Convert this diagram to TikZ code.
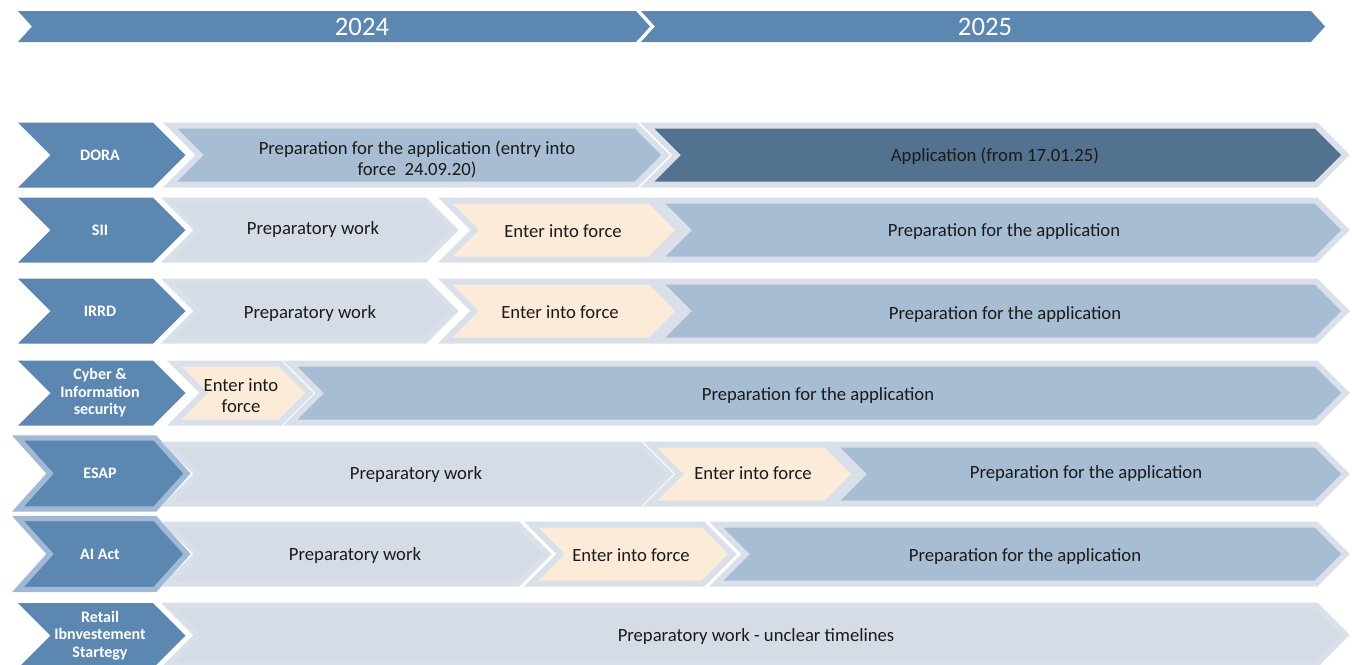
\documentclass[tikz,border=0pt]{standalone}
\usepackage{fontspec}
\setmainfont{Carlito}

\definecolor{labelblue}{HTML}{5B87B1}
\definecolor{labelrim}{HTML}{9FB9D6}
\definecolor{appdark}{HTML}{52728F}
\definecolor{barblue}{HTML}{A7BDD4}
\definecolor{prepgrey}{HTML}{D5DCE6}
\definecolor{peach}{HTML}{FDEBD9}
\definecolor{rim}{HTML}{DAE0E9}
\definecolor{textdark}{HTML}{1A1A1A}

% chevron: left x, right x, centre y, half height, point depth
\newcommand{\chevpath}[5]{(#1,#3-#4) -- (#2,#3-#4) -- (#2+#5,#3) -- (#2,#3+#4) -- (#1,#3+#4) -- (#1+#5,#3) -- cycle}

\tikzset{
  year bar/.style={fill=labelblue},
  year text/.style={text=white, font=\fontsize{20}{24}\selectfont},
  row label/.style={fill=labelblue},
  ringed label/.style={fill=labelblue, draw=labelrim, line width=4.1pt, line join=miter},
  label text/.style={text=white, font=\bfseries\fontsize{12}{13.2}\selectfont, align=center},
  every bar/.style={draw=rim, line width=4.5pt, line join=miter},
  prep bar/.style={every bar, fill=prepgrey},
  force bar/.style={every bar, fill=peach},
  appl bar/.style={every bar, fill=barblue},
  app bar/.style={every bar, fill=appdark},
  bar text/.style={text=textdark, font=\fontsize{14}{15.8}\selectfont, align=center, yshift=-1.2pt},
}

\begin{document}
\begin{tikzpicture}[x=0.75pt, y=-0.75pt]

    \useasboundingbox (0,0) rectangle (1352,664);

    % ================================================================================================
    % years
    % ================================================================================================
    \path [year bar] \chevpath{18}{636}{26.5}{15.5}{14};
    \path [year bar] \chevpath{641}{1311}{26.5}{15.5}{14};

    \node [year text] (year-2024) at (362,26.5) {2024};
    \node [year text] (year-2025) at (985,26.5) {2025};

    % ================================================================================================
    % row labels
    % ================================================================================================
    \foreach \y/\r/\h/\d/\s/\t [count=\i] in {155/153/32.5/32.5/row label/DORA,
        230/153/32.5/32.5/row label/SII, 311/153/32.5/32.5/row label/IRRD,
        393/153/32.5/32.5/row label/{Cyber \&\\Information\\security},
        473.5/155/35.5/32/ringed label/ESAP, 554/155/35.5/32/ringed label/AI Act,
        635.5/153/32.5/32.5/row label/{Retail\\Ibnvestement\\Startegy}}
    {
    \path [\s] \chevpath{18}{\r}{\y}{\h}{\d};
    \node [label text] (label-\i) at (100,\y) {\t};
    }

    % ================================================================================================
    % bars
    % ================================================================================================
    \foreach \l/\r/\y/\s in {170/636/155/appl bar, 647/1316/155/app bar,
        168/425/230/prep bar, 445/650/230/force bar, 658/1316/230/appl bar,
        168/425/311/prep bar, 445/650/311/force bar, 658/1316/311/appl bar,
        290/1316/393/appl bar, 174/280/393/force bar,
        168/640/474/prep bar, 650/826/474/force bar, 833/1316/474/appl bar,
        168/518/554/prep bar, 531/703/554/force bar, 716/1316/554/appl bar,
        168/1316/635/prep bar}
    \path [\s] \chevpath{\l}{\r}{\y}{29.5}{29.5};

    % ================================================================================================
    % bar texts
    % ================================================================================================
    \foreach \x/\y/\n/\t in {417/157.5/dora-prep/{Preparation for the application (entry into\\force\ \ 24.09.20)},
        995/155/dora-app/{Application (from 17.01.25)},
        313/228/sii-prep/{Preparatory work}, 563/230/sii-force/{Enter into force},
        1004/230/sii-appl/{Preparation for the application},
        310/312/irrd-prep/{Preparatory work}, 560/311/irrd-force/{Enter into force},
        1005/313/irrd-appl/{Preparation for the application},
        241/394.5/cyber-force/{Enter into\\force}, 818/394/cyber-appl/{Preparation for the application},
        416/473/esap-prep/{Preparatory work}, 753/472/esap-force/{Enter into force},
        1086/472/esap-appl/{Preparation for the application},
        355/554/ai-prep/{Preparatory work}, 631/554/ai-force/{Enter into force},
        1025/555/ai-appl/{Preparation for the application},
        756/635/retail-prep/{Preparatory work - unclear timelines}}
    \node [bar text] (\n) at (\x,\y) {\t};

\end{tikzpicture}
\end{document}
